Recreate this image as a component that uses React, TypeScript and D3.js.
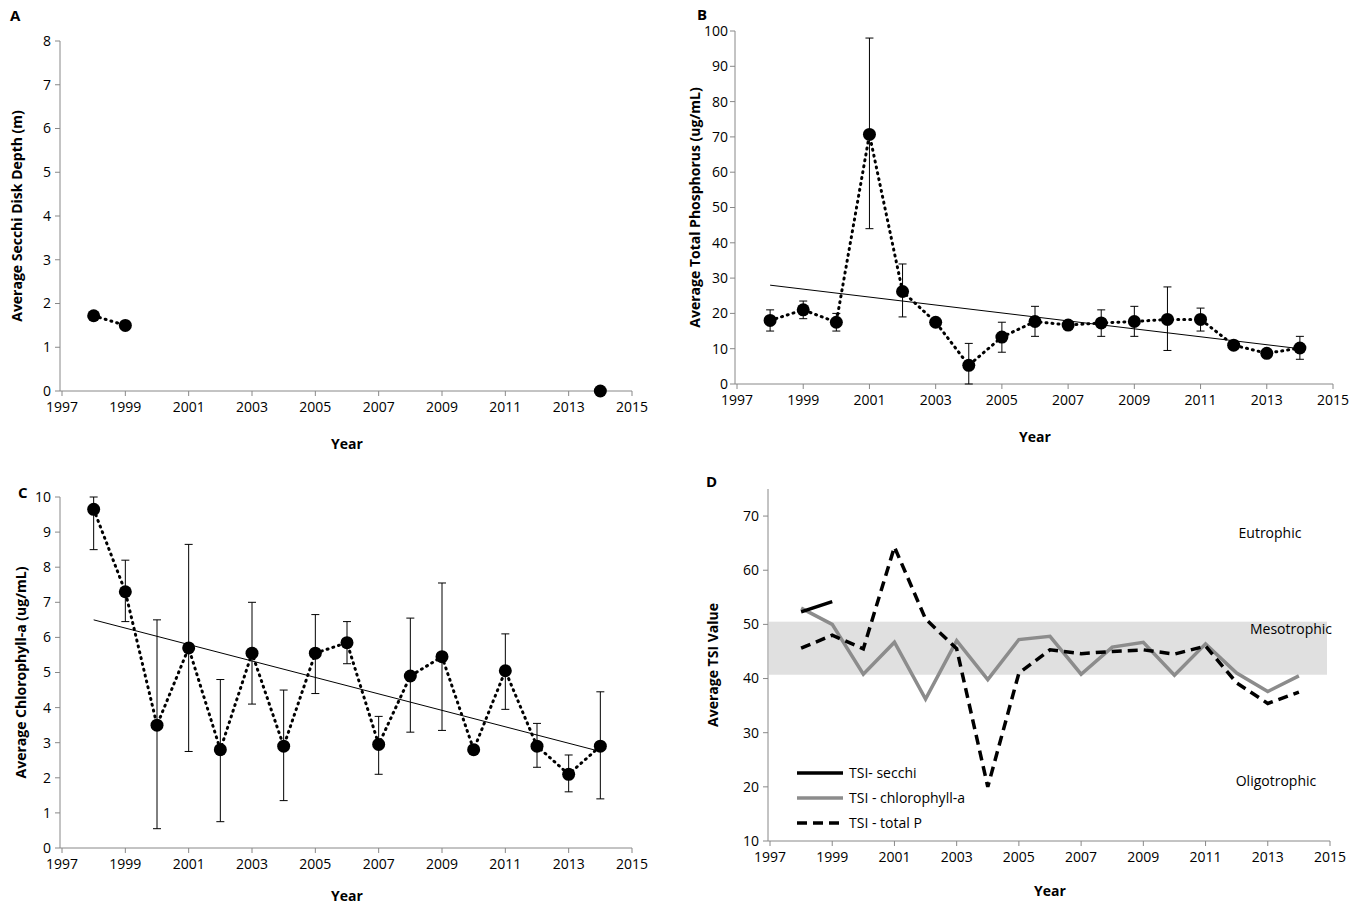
import React from "react";
import * as d3 from "d3";

const years = d3.range(1998, 2015);
const xTicks = [1997, 1999, 2001, 2003, 2005, 2007, 2009, 2011, 2013, 2015];

const secchiYears = [1998, 1999, 2014];
const secchi = [1.72, 1.5, 0];

const tp = [18, 21, 17.5, 70.7, 26.2, 17.5, 5.3, 13.3, 17.7, 16.7, 17.3, 17.7, 18.3, 18.3, 11, 8.7, 10.2];
const tpLo = [15, 18.5, 15, 44, 19, 17.5, 0, 9, 13.5, 16, 13.5, 13.5, 9.5, 15, 10, 8.7, 7];
const tpHi = [21, 23.5, 20, 98, 34, 17.5, 11.5, 17.5, 22, 17.5, 21, 22, 27.5, 21.5, 12, 8.7, 13.5];
const tpTrend = [28, 10];

const chl = [9.65, 7.3, 3.5, 5.7, 2.8, 5.55, 2.9, 5.55, 5.85, 2.95, 4.9, 5.45, 2.8, 5.05, 2.9, 2.1, 2.9];
const chlLo = [8.5, 6.45, 0.55, 2.75, 0.75, 4.1, 1.35, 4.4, 5.25, 2.1, 3.3, 3.35, 2.8, 3.95, 2.3, 1.6, 1.4];
const chlHi = [10, 8.2, 6.5, 8.65, 4.8, 7, 4.5, 6.65, 6.45, 3.75, 6.55, 7.55, 2.8, 6.1, 3.55, 2.65, 4.45];
const chlTrend = [6.5, 2.75];

const tsiSecchi = [52.3, 54.2];
const tsiChl = [53, 50, 40.8, 46.7, 36.2, 47, 39.8, 47.2, 47.8, 40.8, 45.8, 46.7, 40.6, 46.4, 41, 37.6, 40.5];
const tsiTp = [45.6, 48, 45.5, 64.3, 51, 45.5, 20, 41, 45.3, 44.6, 45, 45.3, 44.5, 46, 39.2, 35.4, 37.5];

const font = "'Open Sans', 'Liberation Sans', Arial, sans-serif";

function Axes({ x, y, yTicks, yLabel, label, labelPos, x0, yTitleX, xTitleY, tickPad = 9 }: any) {
  const [ya, yb] = y.range();
  return (
    <g fontFamily={font} fontSize={14}>
      <line x1={x0} x2={x0} y1={yb} y2={ya} stroke="#888" />
      <line x1={x0} x2={x.range()[1]} y1={ya} y2={ya} stroke="#888" />
      {yTicks.map((t: number) => (
        <g key={t}>
          <line x1={x0 - 5} x2={x0} y1={y(t)} y2={y(t)} stroke="#888" />
          <text x={x0 - tickPad} y={y(t)} dy="0.35em" textAnchor="end">{t}</text>
        </g>
      ))}
      {xTicks.map((t) => (
        <g key={t}>
          <line x1={x(t)} x2={x(t)} y1={ya} y2={ya + 5} stroke="#888" />
          <text x={x(t)} y={ya + 21} textAnchor="middle">{t}</text>
        </g>
      ))}
      <text x={(x.range()[0] + x.range()[1]) / 2} y={xTitleY} textAnchor="middle" fontWeight="bold">Year</text>
      <text transform={`translate(${yTitleX},${(ya + yb) / 2}) rotate(-90)`} textAnchor="middle" fontWeight="bold">{yLabel}</text>
      <text x={labelPos[0]} y={labelPos[1]} fontWeight="bold" fontSize={15}>{label}</text>
    </g>
  );
}

function ErrPanel({ x, y, vals, lo, hi, trend }: any) {
  const line = d3.line<number>().x((_, i) => x(years[i])).y((d) => y(d));
  return (
    <g>
      <line x1={x(1998)} x2={x(2014)} y1={y(trend[0])} y2={y(trend[1])} stroke="#000" strokeWidth={1} />
      {years.map((yr, i) => lo[i] !== hi[i] && (
        <g key={yr} stroke="#000">
          <line x1={x(yr)} x2={x(yr)} y1={y(lo[i])} y2={y(hi[i])} />
          <line x1={x(yr) - 4} x2={x(yr) + 4} y1={y(lo[i])} y2={y(lo[i])} />
          <line x1={x(yr) - 4} x2={x(yr) + 4} y1={y(hi[i])} y2={y(hi[i])} />
        </g>
      ))}
      <path d={line(vals) || ""} fill="none" stroke="#000" strokeWidth={3} strokeDasharray="1,5" strokeLinecap="round" />
      {vals.map((v: number, i: number) => <circle key={i} cx={x(years[i])} cy={y(v)} r={6.5} fill="#000" />)}
    </g>
  );
}

export default function App() {
  const xA = d3.scaleLinear().domain([1997, 2015]).range([62, 632]);
  const yA = d3.scaleLinear().domain([0, 8]).range([391, 41]);
  const xB = d3.scaleLinear().domain([1997, 2015]).range([737, 1333]);
  const yB = d3.scaleLinear().domain([0, 100]).range([384, 31]);
  const xC = d3.scaleLinear().domain([1997, 2015]).range([62, 632]);
  const yC = d3.scaleLinear().domain([0, 10]).range([848, 497]);
  const xD = d3.scaleLinear().domain([1997, 2015]).range([770, 1330]);
  const yD = d3.scaleLinear().domain([10, 75]).range([841, 489]);

  const lineA = d3.line<number>().x((_, i) => xA(secchiYears[i])).y((d) => yA(d));
  const lineD = d3.line<number>().x((_, i) => xD(years[i])).y((d) => yD(d));

  return (
    <svg width={1361} height={907} style={{ position: "absolute", left: 0, top: 0, background: "#fff" }}>
      <Axes x={xA} y={yA} yTicks={d3.range(0, 9)} yLabel="Average Secchi Disk Depth (m)" label="A" labelPos={[10, 21]} x0={60} yTitleX={22} xTitleY={449} />
      <path d={lineA(secchi.slice(0, 2)) || ""} fill="none" stroke="#000" strokeWidth={3} strokeDasharray="1,5" strokeLinecap="round" />
      {secchi.map((v, i) => <circle key={i} cx={xA(secchiYears[i])} cy={yA(v)} r={6.5} fill="#000" />)}

      <Axes x={xB} y={yB} yTicks={d3.range(0, 101, 10)} yLabel="Average Total Phosphorus (ug/mL)" label="B" labelPos={[697, 20]} x0={735} yTitleX={700} xTitleY={442} tickPad={7} />
      <ErrPanel x={xB} y={yB} vals={tp} lo={tpLo} hi={tpHi} trend={tpTrend} />

      <Axes x={xC} y={yC} yTicks={d3.range(0, 11)} yLabel="Average Chlorophyll-a  (ug/mL)" label="C" labelPos={[18, 498]} x0={60} yTitleX={26} xTitleY={901} />
      <ErrPanel x={xC} y={yC} vals={chl} lo={chlLo} hi={chlHi} trend={chlTrend} />

      <rect x={769} y={yD(50.5)} width={1327 - 769} height={yD(40.7) - yD(50.5)} fill="#e0e0e0" />
      <Axes x={xD} y={yD} yTicks={d3.range(10, 71, 10)} yLabel="Average TSI Value" label="D" labelPos={[706, 487]} x0={768} yTitleX={718} xTitleY={896} />
      <path d={lineD(tsiChl) || ""} fill="none" stroke="#8c8c8c" strokeWidth={3.5} />
      <path d={lineD(tsiTp) || ""} fill="none" stroke="#000" strokeWidth={3.5} strokeDasharray="10,6" />
      <path d={lineD(tsiSecchi) || ""} fill="none" stroke="#000" strokeWidth={3.5} />
      <g fontFamily={font} fontSize={14}>
        <text x={1270} y={538} textAnchor="middle">Eutrophic</text>
        <text x={1291} y={634} textAnchor="middle">Mesotrophic</text>
        <text x={1276} y={786} textAnchor="middle">Oligotrophic</text>
        {[["TSI- secchi", "#000", ""], ["TSI - chlorophyll-a", "#8c8c8c", ""], ["TSI - total P", "#000", "10,6"]].map(([t, c, da], i) => (
          <g key={t}>
            <line x1={797} x2={843} y1={773 + i * 25} y2={773 + i * 25} stroke={c} strokeWidth={3.5} strokeDasharray={da} />
            <text x={849} y={773 + i * 25} dy="0.35em">{t}</text>
          </g>
        ))}
      </g>
    </svg>
  );
}
